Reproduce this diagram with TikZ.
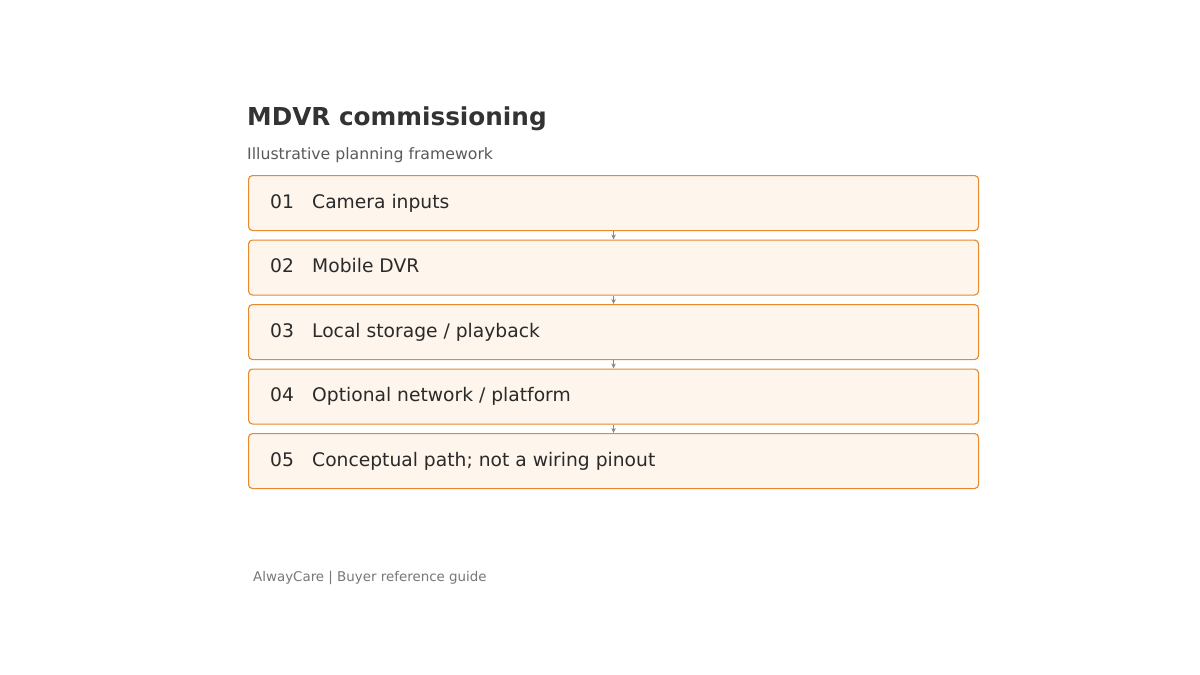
\documentclass[tikz,border=0pt]{standalone}
\usepackage{fontspec}
\setmainfont{DejaVu Sans}
\usetikzlibrary{arrows.meta}
\definecolor{boxline}{HTML}{E8892B}
\definecolor{boxfill}{HTML}{FEF5EC}
\definecolor{titlecol}{HTML}{333333}
\definecolor{subcol}{HTML}{5A5A5A}
\definecolor{footcol}{HTML}{777777}
\definecolor{textcol}{HTML}{2A2A2A}
\definecolor{arrowcol}{HTML}{888888}
\begin{document}
\begin{tikzpicture}[x=1pt,y=-1pt,
  stepbox/.style={draw=boxline, fill=boxfill, line width=1.1pt, rounded corners=4pt, minimum width=730pt, minimum height=55pt, inner sep=0pt, anchor=north west},
  steptext/.style={anchor=base west, inner sep=0pt, font=\fontsize{18.7}{22}\selectfont, text=textcol},
  flow/.style={draw=arrowcol, line width=0.9pt, -{Stealth[length=5pt,width=4.5pt]}}]
\useasboundingbox (0,0) rectangle (1200,675);
\fill[white] (0,0) rectangle (1200,675);
\node[anchor=base west, inner sep=0pt, font=\fontsize{24.7}{29}\bfseries\selectfont, text=titlecol] (title) at (247,125) {MDVR commissioning};
\node[anchor=base west, inner sep=0pt, font=\fontsize{15.7}{19}\selectfont, text=subcol] (sub) at (247,159.5) {Illustrative planning framework};
\foreach \i/\y/\t in {1/175/{Camera inputs},2/239.5/{Mobile DVR},3/304/{Local storage / playback},4/368.5/{Optional network / platform},5/433/{Conceptual path; not a wiring pinout}}{
  \node[stepbox] (b\i) at (248,\y) {};
  \node[steptext] (n\i) at (270,\y+33) {0\i};
  \node[steptext] (t\i) at (312,\y+33) {\t};
}
\foreach \a/\b in {1/2,2/3,3/4,4/5}{
  \draw[flow] (b\a.south) -- (b\b.north);
}
\node[anchor=base west, inner sep=0pt, font=\fontsize{13.4}{16}\selectfont, text=footcol] (foot) at (253,581) {AlwayCare | Buyer reference guide};
\end{tikzpicture}
\end{document}
